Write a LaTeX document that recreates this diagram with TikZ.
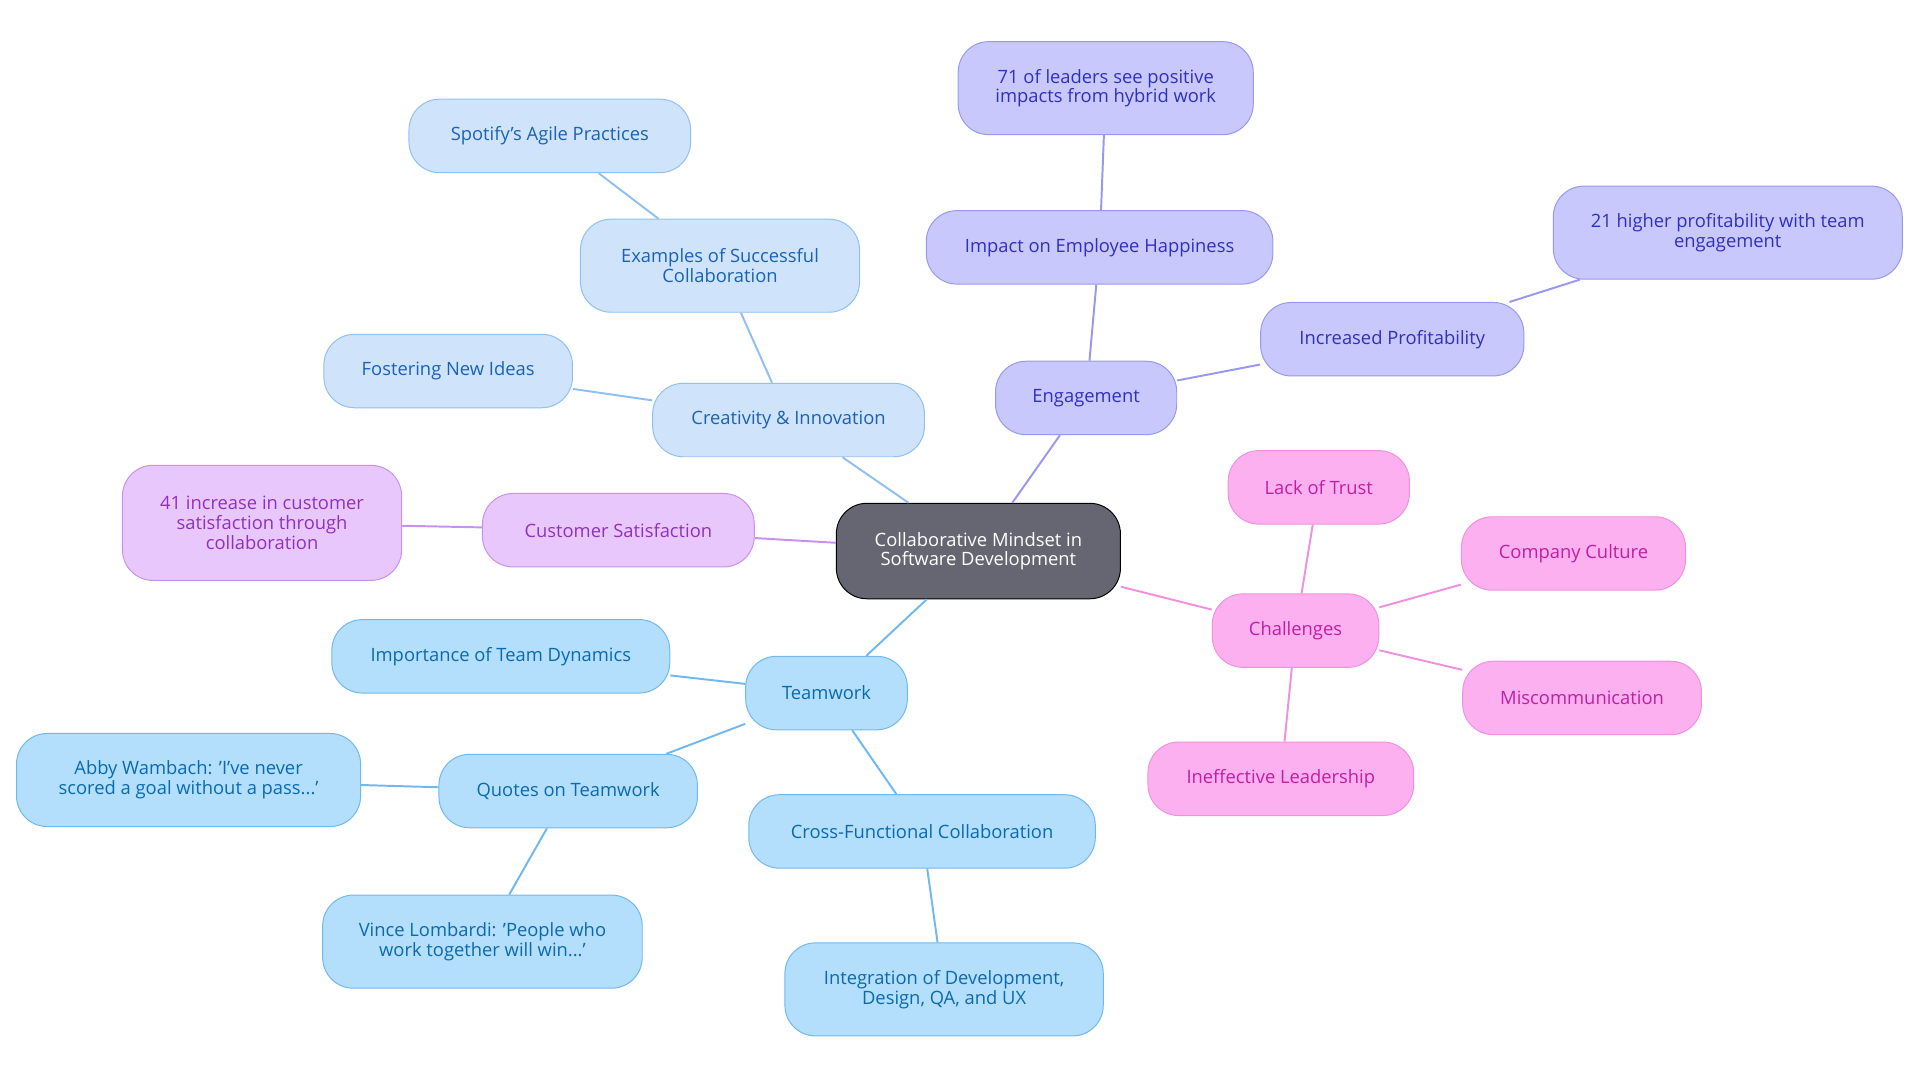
\documentclass[tikz,border=0pt]{standalone}
\usepackage{fontspec}
\setmainfont{Open Sans}
\begin{document}
\begin{tikzpicture}[x=1pt,y=-1pt]
\definecolor{cbF}{HTML}{CFE3FB}\definecolor{cbS}{HTML}{90C0F0}\definecolor{cbT}{HTML}{1A62B8}
\definecolor{puF}{HTML}{E8C8FC}\definecolor{puS}{HTML}{C890F0}\definecolor{puT}{HTML}{9030C0}
\definecolor{inF}{HTML}{C8C8FC}\definecolor{inS}{HTML}{9898F0}\definecolor{inT}{HTML}{3030C0}
\definecolor{piF}{HTML}{FDB0F0}\definecolor{piS}{HTML}{F090E0}\definecolor{piT}{HTML}{C020A0}
\definecolor{tbF}{HTML}{B3DEFC}\definecolor{tbS}{HTML}{70B8F0}\definecolor{tbT}{HTML}{0A6AB0}
\useasboundingbox (0,0) rectangle (1568,884);
\tikzset{
 box/.style={rounded corners=25pt,align=center,font=\fontsize{15}{16}\selectfont,inner sep=0pt,line width=0.8pt},
 cbx/.style={box,fill=cbF,draw=cbS,text=cbT},
 pux/.style={box,fill=puF,draw=puS,text=puT},
 inx/.style={box,fill=inF,draw=inS,text=inT},
 pix/.style={box,fill=piF,draw=piS,text=piT},
 tbx/.style={box,fill=tbF,draw=tbS,text=tbT},
 sz/.style 2 args={minimum width=#1pt,minimum height=#2pt},
 ln/.style={line width=1.6pt}
}
\node[box,fill=black!92!blue!60,draw=black,text=white,sz={232}{78}] (c) at (799,450) {Collaborative Mindset in\\Software Development};
\node[cbx,sz={222}{60}] (ci) at (644,343) {Creativity \& Innovation};
\node[cbx,sz={228}{76}] (ex) at (588,217) {Examples of Successful\\Collaboration};
\node[cbx,sz={230}{60}] (sp) at (449,111) {Spotify's Agile Practices};
\node[cbx,sz={203}{60}] (fo) at (366,303) {Fostering New Ideas};
\node[pux,sz={222}{60}] (cs) at (505,433) {Customer Satisfaction};
\node[pux,sz={228}{94}] (ci41) at (214,427) {41 increase in customer\\satisfaction through\\collaboration};
\node[inx,sz={148}{60}] (en) at (887,325) {Engagement};
\node[inx,sz={283}{60}] (ih) at (898,202) {Impact on Employee Happiness};
\node[inx,sz={241}{76}] (l71) at (903,72) {71 of leaders see positive\\impacts from hybrid work};
\node[inx,sz={215}{60}] (ip) at (1137,277) {Increased Profitability};
\node[inx,sz={285}{76}] (h21) at (1411,190) {21 higher profitability with team\\engagement};
\node[pix,sz={136}{60}] (ch) at (1058,515) {Challenges};
\node[pix,sz={148}{60}] (lt) at (1077,398) {Lack of Trust};
\node[pix,sz={183}{60}] (cc) at (1285,452) {Company Culture};
\node[pix,sz={195}{60}] (mc) at (1292,570) {Miscommunication};
\node[pix,sz={217}{60}] (il) at (1046,636) {Ineffective Leadership};
\node[tbx,sz={132}{60}] (tw) at (675,566) {Teamwork};
\node[tbx,sz={276}{60}] (td) at (409,536) {Importance of Team Dynamics};
\node[tbx,sz={211}{60}] (qt) at (464,646) {Quotes on Teamwork};
\node[tbx,sz={281}{76}] (ab) at (154,637) {Abby Wambach: 'I've never\\scored a goal without a pass...'};
\node[tbx,sz={261}{76}] (vl) at (394,769) {Vince Lombardi: 'People who\\work together will win...'};
\node[tbx,sz={283}{60}] (cf) at (753,679) {Cross-Functional Collaboration};
\node[tbx,sz={260}{76}] (ig) at (771,808) {Integration of Development,\\Design, QA, and UX};
\draw[ln,cbS] (c) -- (ci); \draw[ln,cbS] (ci) -- (ex); \draw[ln,cbS] (ex) -- (sp); \draw[ln,cbS] (ci) -- (fo);
\draw[ln,puS] (c) -- (cs); \draw[ln,puS] (cs) -- (ci41);
\draw[ln,inS] (c) -- (en); \draw[ln,inS] (en) -- (ih); \draw[ln,inS] (ih) -- (l71); \draw[ln,inS] (en) -- (ip); \draw[ln,inS] (ip) -- (h21);
\draw[ln,piS] (c) -- (ch); \draw[ln,piS] (ch) -- (lt); \draw[ln,piS] (ch) -- (cc); \draw[ln,piS] (ch) -- (mc); \draw[ln,piS] (ch) -- (il);
\draw[ln,tbS] (c) -- (tw); \draw[ln,tbS] (tw) -- (td); \draw[ln,tbS] (tw) -- (qt); \draw[ln,tbS] (qt) -- (ab); \draw[ln,tbS] (qt) -- (vl); \draw[ln,tbS] (tw) -- (cf); \draw[ln,tbS] (cf) -- (ig);
\end{tikzpicture}
\end{document}
